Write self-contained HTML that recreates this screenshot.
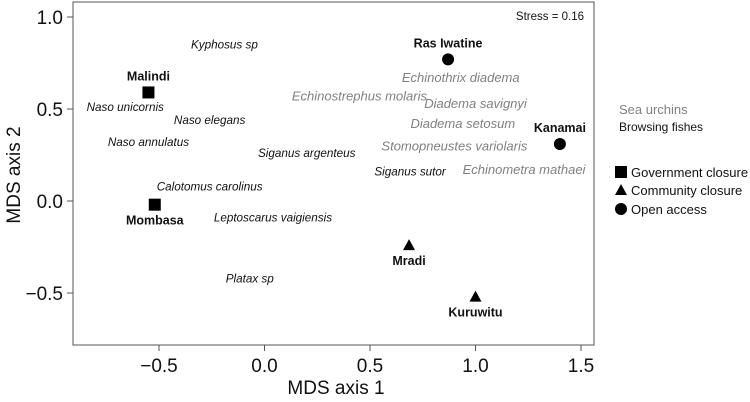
<!DOCTYPE html>
<html><head><meta charset="utf-8"><style>
body{margin:0;background:#fff}
svg{display:block;font-family:"Liberation Sans",Arial,sans-serif}
</style></head><body>
<svg id="chart" width="750" height="402"></svg>
<script>
const siteNames=["Malindi","Mombasa","Ras Iwatine","Kanamai","Mradi","Kuruwitu"];
const siteX=[-0.55,-0.52,0.87,1.40,0.685,1.0];
const siteY=[0.59,-0.02,0.77,0.31,-0.24,-0.52];
const siteType=["square","square","circle","circle","triangle","triangle"];
const siteLabelAbove=[true,false,true,true,false,false];
const fishNames=["Kyphosus sp","Naso unicornis","Naso elegans","Naso annulatus","Siganus argenteus","Siganus sutor","Calotomus carolinus","Leptoscarus vaigiensis","Platax sp"];
const fishX=[-0.19,-0.66,-0.26,-0.55,0.20,0.69,-0.26,0.04,-0.07];
const fishY=[0.85,0.51,0.44,0.32,0.26,0.16,0.08,-0.09,-0.42];
const urchinNames=["Echinostrephus molaris","Echinothrix diadema","Diadema savignyi","Diadema setosum","Stomopneustes variolaris","Echinometra mathaei"];
const urchinX=[0.45,0.93,1.0,0.94,0.90,1.23];
const urchinY=[0.57,0.67,0.53,0.42,0.30,0.17];
const xTicks=[-0.5,0.0,0.5,1.0,1.5];
const yTicks=[-0.5,0.0,0.5,1.0];
const xTickLabels=["\u22120.5","0.0","0.5","1.0","1.5"];
const yTickLabels=["\u22120.5","0.0","0.5","1.0"];

const svg=document.getElementById('chart');
const NS='http://www.w3.org/2000/svg';
const L=73,R=594,T=2,B=345;
const sx=v=>264.5+v*211;
const sy=v=>201-v*184;
function mk(tag,attrs,parent){const e=document.createElementNS(NS,tag);for(const k in attrs)e.setAttribute(k,attrs[k]);(parent||svg).appendChild(e);return e;}
function txt(s,attrs){const e=mk('text',attrs);e.textContent=s;return e;}

const frame=mk('rect',{x:L,y:T,width:R-L,height:B-T,fill:'none',stroke:'#555','stroke-width':1});



xTicks.forEach((t,i)=>{
  const l=mk('line',{x1:sx(t),x2:sx(t),y1:B,y2:B+6,stroke:'#555'});
  
  
  const e=txt(xTickLabels[i],{x:sx(t),y:B+27,'text-anchor':'middle','font-size':19,fill:'#111'});
  
  
});
yTicks.forEach((t,i)=>{
  const l=mk('line',{x1:L-6,x2:L,y1:sy(t),y2:sy(t),stroke:'#555'});
  
  
  const e=txt(yTickLabels[i],{x:L-10,y:sy(t)+7,'text-anchor':'end','font-size':19,fill:'#111'});
  
  
});
const xt=txt('MDS axis 1',{x:336,y:394,'text-anchor':'middle','font-size':19,fill:'#111'});


const yt=txt('MDS axis 2',{x:0,y:0,'text-anchor':'middle','font-size':19,fill:'#111',transform:'translate(20,175) rotate(-90)'});


const st=txt('Stress = 0.16',{x:584,y:20,'text-anchor':'end','font-size':11.5,fill:'#111'});



fishNames.forEach((n,i)=>{
  const e=txt(n,{x:sx(fishX[i]),y:sy(fishY[i])+4,'text-anchor':'middle','font-size':11.7,'font-style':'italic',fill:'#111'});
  
  
});
urchinNames.forEach((n,i)=>{
  const e=txt(n,{x:sx(urchinX[i]),y:sy(urchinY[i])+4.5,'text-anchor':'middle','font-size':13,'font-style':'italic',fill:'#808080'});
  
  
});
function marker(type,x,y,parent){
  if(type==='square') return mk('rect',{x:x-6,y:y-6,width:12,height:12,fill:'#000'},parent);
  if(type==='circle') return mk('circle',{cx:x,cy:y,r:6,fill:'#000'},parent);
  return mk('polygon',{points:`${x},${y-6} ${x+6},${y+5} ${x-6},${y+5}`,fill:'#000'},parent);
}
siteNames.forEach((n,i)=>{
  const x=sx(siteX[i]),y=sy(siteY[i]);
  const m=marker(siteType[i],x,y);
  
  
  const e=txt(n,{x:x,y:siteLabelAbove[i]?y-12:y+20,'text-anchor':'middle','font-size':12.5,'font-weight':'bold',fill:'#111'});
  
  
});
const lg1=txt('Sea urchins',{x:619,y:114,'font-size':13,fill:'#808080'});


const lg2=txt('Browsing fishes',{x:619,y:131,'font-size':12,fill:'#111'});


[['square','Government closure',172],['triangle','Community closure',190],['circle','Open access',209]].forEach(d=>{
  const m=marker(d[0],621,d[2]);
  
  
  const e=txt(d[1],{x:631,y:d[2]+5,'font-size':13,fill:'#111'});
  
  
});
</script>
</body></html>
